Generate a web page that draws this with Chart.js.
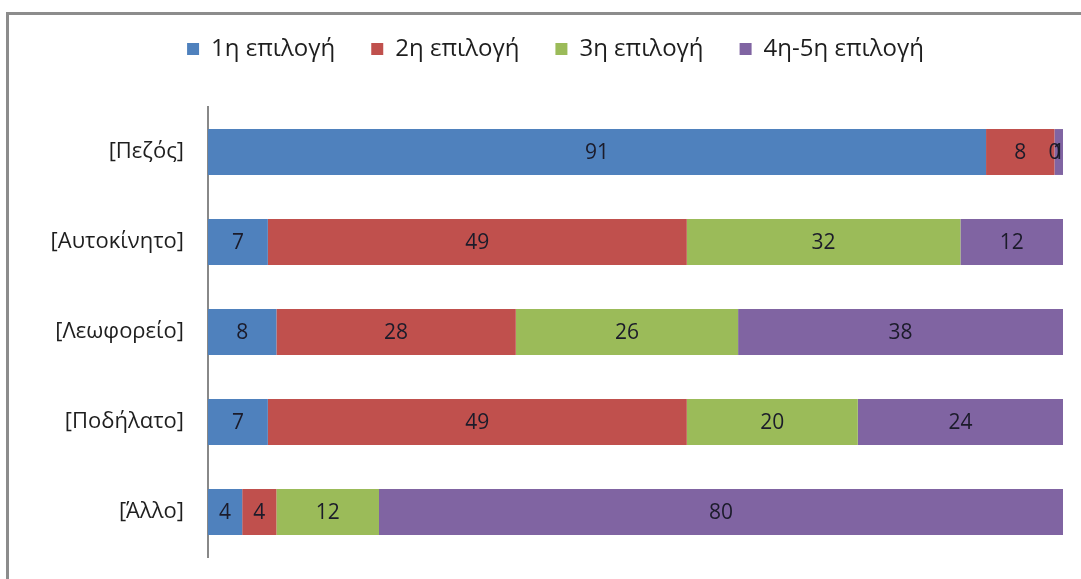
<!DOCTYPE html>
<html>
<head>
<meta charset="utf-8">
<script src="https://cdn.jsdelivr.net/npm/chart.js@4"></script>
<style>
  body { margin: 0; background: #fff; overflow: hidden; }
  #frame {
    position: absolute; left: 6px; top: 12px; width: 1200px; height: 700px;
    border-left: 3px solid #8c8c8c; border-top: 3px solid #8c8c8c;
  }
  #wrap { position: absolute; left: 0; top: 0; width: 1081px; height: 579px; }
</style>
</head>
<body>
<div id="frame"></div>
<div id="wrap"><canvas id="chart"></canvas></div>
<script>
// categories (top to bottom)
const categories = ["[Πεζός]", "[Αυτοκίνητο]", "[Λεωφορείο]", "[Ποδήλατο]", "[Άλλο]"];

// series values (%)
const first = [91, 7, 8, 7, 4];
const second = [8, 49, 28, 49, 4];
const third = [0, 32, 26, 20, 12];
const fourthFifth = [1, 12, 38, 24, 80];

const seriesNames = ["1η επιλογή", "2η επιλογή", "3η επιλογή", "4η-5η επιλογή"];
const colors = ["#4f81bd", "#c0504d", "#9bbb59", "#8064a2"];

const fontFamily = "'Open Sans', 'DejaVu Sans', sans-serif";

// draw the value of each segment in its middle
const valueLabels = {
  id: "valueLabels",
  afterDatasetsDraw(chart) {
    const ctx = chart.ctx;
    ctx.save();
    ctx.font = "21px " + fontFamily;
    ctx.fillStyle = "#1b1b2a";
    ctx.textAlign = "center";
    ctx.textBaseline = "middle";
    chart.data.datasets.forEach((ds, i) => {
      chart.getDatasetMeta(i).data.forEach((bar, j) => {
        const x = (bar.x + bar.base) / 2;
        ctx.fillText(String(ds.data[j]), x, bar.y + 1);
      });
    });
    ctx.restore();
  }
};

// fixed legend height so the plot starts lower, and nudge it right a bit
const legendTweak = {
  id: "legendTweak",
  afterInit(chart) {
    const legend = chart.legend;
    const fit = legend.fit;
    legend.fit = function () {
      fit.call(this);
      this.height = 107;
    };
    const draw = legend.draw;
    legend.draw = function () {
      this.ctx.save();
      this.ctx.translate(24, 1);
      draw.call(this);
      this.ctx.restore();
    };
  }
};

const ctx = document.getElementById("chart").getContext("2d");
new Chart(ctx, {
  type: "bar",
  data: {
    labels: categories,
    datasets: [first, second, third, fourthFifth].map((values, i) => ({
      label: seriesNames[i],
      data: values,
      backgroundColor: colors[i],
      borderWidth: 0,
      barPercentage: 0.51,
      categoryPercentage: 1,
    })),
  },
  options: {
    indexAxis: "y",
    responsive: true,
    maintainAspectRatio: false,
    animation: false,
    layout: { padding: { top: 0, right: 18, bottom: 22, left: 0 } },
    plugins: {
      legend: {
        position: "top",
        labels: {
          boxWidth: 12,
          boxHeight: 12,
          padding: 36,
          color: "#1e1e1e",
          font: { size: 24, family: fontFamily },
        },
      },
      tooltip: { enabled: false },
    },
    scales: {
      x: {
        stacked: true,
        display: false,
        min: 0,
        max: 100,
      },
      y: {
        stacked: true,
        grid: { display: false, drawTicks: false },
        border: { display: true, color: "#888", width: 2 },
        ticks: {
          color: "#1e1e1e",
          padding: 24,
          font: { size: 22, family: fontFamily },
        },
        afterFit(scale) {
          scale.width = 208;
          scale.paddingTop = 0;
          scale.paddingBottom = 0;
        },
      },
    },
  },
  plugins: [valueLabels, legendTweak],
});
</script>
</body>
</html>
